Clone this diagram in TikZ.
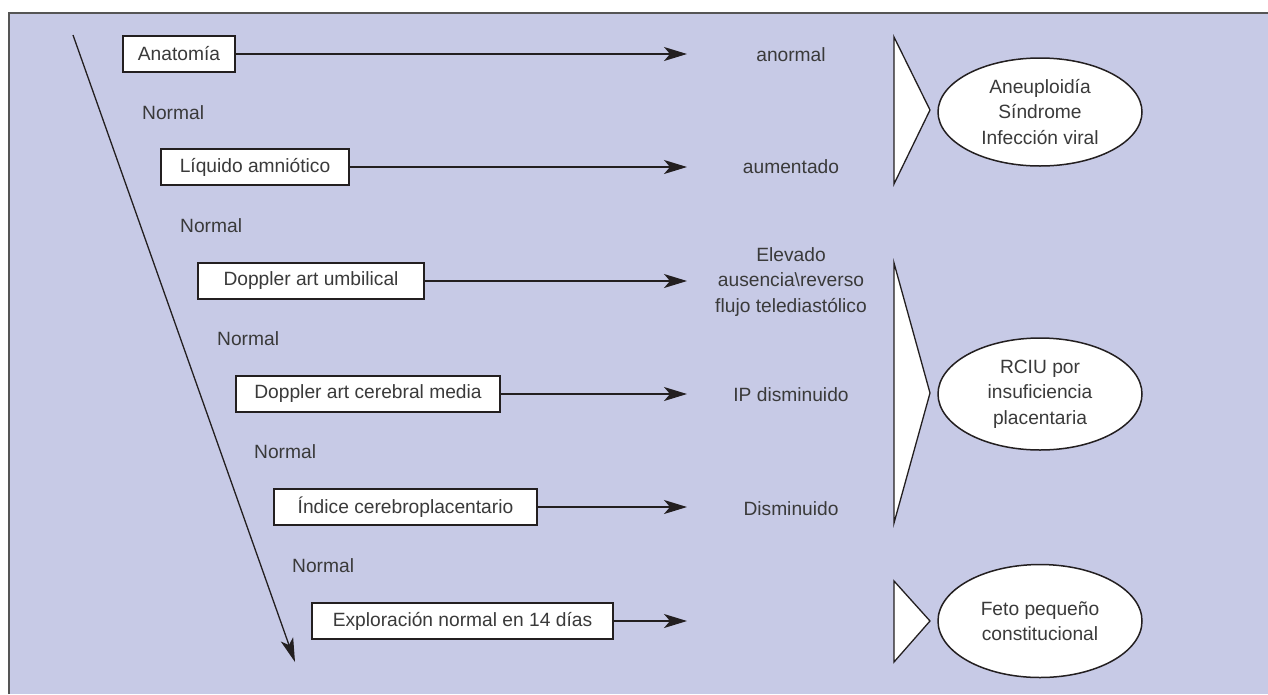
\documentclass[tikz,border=0pt]{standalone}
\usepackage{fontspec}
\setmainfont{Liberation Sans}
\usetikzlibrary{shapes.geometric,arrows.meta}
\definecolor{bg}{HTML}{C7CAE6}
\definecolor{ink}{HTML}{231F20}
\definecolor{txt}{HTML}{3A3A3A}
\definecolor{frame}{HTML}{555555}
\begin{document}
\begin{tikzpicture}[x=1pt,y=-1pt,
  every node/.style={font=\fontsize{19.2}{25.5}\selectfont, text=txt},
  testbox/.style={draw=ink, line width=1.5pt, fill=white, minimum height=36pt, inner sep=0pt},
  normlbl/.style={anchor=west, inner sep=0pt},
  reslbl/.style={align=center, inner sep=0pt},
  dx/.style={draw=ink, line width=1.5pt, fill=white, ellipse, minimum width=204pt, minimum height=110pt, inner sep=0pt, align=center},
  wedge/.style={draw=ink, line width=1.3pt, fill=white, line join=miter},
  harrow/.style={draw=ink, line width=1.4pt, -{Stealth[length=23pt,width=14pt,inset=6pt]}},
]
\useasboundingbox (0,0) rectangle (1268,694);
\fill[bg] (9,13) rectangle (1268,694);
\draw[frame, line width=1.6pt] (9,694) -- (9,13) -- (1268,13);

% main descending arrow
\coordinate (top) at (73,35);
\coordinate (bot) at (295,662);
\draw[draw=ink, line width=1.3pt, -{Stealth[length=24pt,width=13pt,inset=6pt]}] (top) -- (bot);

% test boxes
\node[testbox, minimum width=112pt] (b1) at (179,54) {Anatomía};
\node[testbox, minimum width=188pt] (b2) at (255,167) {Líquido amniótico};
\node[testbox, minimum width=226pt] (b3) at (311,281) {Doppler art umbilical};
\node[testbox, minimum width=264pt] (b4) at (368,394) {Doppler art cerebral media};
\node[testbox, minimum width=263pt] (b5) at (405.5,507) {Índice cerebroplacentario};
\node[testbox, minimum width=301pt] (b6) at (462.5,621) {Exploración normal en 14 días};

% Normal labels
\node[normlbl] (n1) at (142,113) {Normal};
\node[normlbl] (n2) at (180,226) {Normal};
\node[normlbl] (n3) at (217,339) {Normal};
\node[normlbl] (n4) at (254,452) {Normal};
\node[normlbl] (n5) at (292,566) {Normal};

% arrow ends
\coordinate (e1) at (687,54);
\coordinate (e2) at (687,167);
\coordinate (e3) at (687,281);
\coordinate (e4) at (687,394);
\coordinate (e5) at (687,507);
\coordinate (e6) at (687,621);
\draw[harrow] (b1.east) -- (e1);
\draw[harrow] (b2.east) -- (e2);
\draw[harrow] (b3.east) -- (e3);
\draw[harrow] (b4.east) -- (e4);
\draw[harrow] (b5.east) -- (e5);
\draw[harrow] (b6.east) -- (e6);

% result labels
\node[reslbl] (r1) at (791,55) {anormal};
\node[reslbl] (r2) at (791,167) {aumentado};
\node[reslbl] (r3) at (791,282) {Elevado\\ausencia\textbackslash reverso\\flujo telediastólico};
\node[reslbl] (r4) at (791,395) {IP disminuido};
\node[reslbl] (r5) at (791,509) {Disminuido};

% wedges
\draw[wedge] (894,37) -- (930,110) -- (894,184) -- cycle;
\draw[wedge] (894,263) -- (930,393) -- (894,523) -- cycle;
\draw[wedge] (894,581) -- (930,621) -- (894,662) -- cycle;

% diagnoses
\node[dx, minimum height=108pt] (d1) at (1040,112) {Aneuploidía\\Síndrome\\Infección viral};
\node[dx, minimum height=112pt] (d2) at (1040,394) {RCIU por\\insuficiencia\\placentaria};
\node[dx, minimum height=113pt] (d3) at (1040,621) {Feto pequeño\\constitucional};
\end{tikzpicture}
\end{document}
